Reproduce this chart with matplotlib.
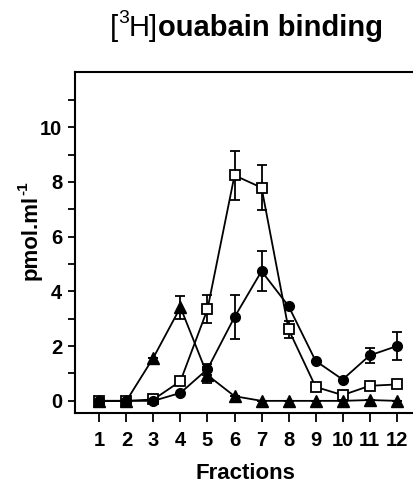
import numpy as np
import matplotlib.pyplot as plt

plt.rcParams['font.family'] = ['Liberation Sans', 'DejaVu Sans']

# fractions collected from the gradient
fractions = np.arange(1, 13)

# open squares
sq_vals = [0, 0, 0.05, 0.72, 3.35, 8.24, 7.79, 2.61, 0.51, 0.21, 0.55, 0.6]
sq_err = [0, 0, 0, 0, 0.52, 0.9, 0.82, 0.3, 0, 0, 0, 0]

# filled circles
ci_vals = [0, 0, 0, 0.29, 1.16, 3.06, 4.74, 3.46, 1.46, 0.78, 1.66, 2.0]
ci_err = [0, 0, 0, 0, 0.2, 0.8, 0.72, 0, 0, 0, 0.27, 0.5]

# filled triangles
tr_vals = [0, 0, 1.58, 3.42, 0.94, 0.17, 0, 0, 0, 0, 0.03, 0]
tr_err = [0, 0, 0, 0.42, 0.3, 0, 0, 0, 0, 0, 0, 0]

W, H = 413, 483
fig = plt.figure(figsize=(W / 100, H / 100), dpi=100)
ax = fig.add_axes([0.181, 0.144, 0.83, 0.706])

common = dict(color='black', lw=1.3, capsize=3.5, elinewidth=1.3, capthick=1.3)
ax.errorbar(fractions, sq_vals, yerr=sq_err, fmt='-s', ms=7, mfc='white',
            mec='black', mew=1.3, zorder=2, **common)
ax.errorbar(fractions, ci_vals, yerr=ci_err, fmt='-o', ms=7, mfc='black',
            zorder=3, **common)
ax.errorbar(fractions, tr_vals, yerr=tr_err, fmt='-^', ms=8, mfc='black',
            zorder=4, **common)

ax.set_xlim(0.09, 12.77)
ax.set_ylim(-0.46, 12)
ax.set_xticks(fractions)
ax.set_yticks([0, 2, 4, 6, 8, 10])
ax.set_yticks([1, 3, 5, 7, 9, 11], minor=True)

for s in ['left', 'bottom', 'top']:
    ax.spines[s].set_linewidth(1.5)
ax.spines['right'].set_visible(False)

ax.tick_params(axis='x', which='major', length=6.5, width=1.3, labelsize=14.5, pad=6)
ax.tick_params(axis='y', which='major', length=5, width=1.3, labelsize=14.5, pad=4)
ax.tick_params(axis='y', which='minor', length=5, width=1.3)
for lbl in ax.get_xticklabels() + ax.get_yticklabels():
    lbl.set_fontweight('bold')

fig.text(245.5 / W, 1 - 479 / H, 'Fractions', fontsize=16, fontweight='bold',
         ha='center', va='baseline')

# title: "[3H]" regular, "ouabain binding" bold
fig.canvas.draw()
r = fig.canvas.get_renderer()
base = 1 - 36 / H
x0 = 158 / W
fig.text(x0, base, 'ouabain binding', fontsize=21, fontweight='bold', ha='left', va='baseline')
t = fig.text(x0, base, 'H]', fontsize=21, ha='right', va='baseline')
left = t.get_window_extent(r).x0 / W
t = fig.text(left, base + 13 / H, '3', fontsize=14, ha='right', va='baseline')
left = t.get_window_extent(r).x0 / W
fig.text(left, base, '[', fontsize=21, ha='right', va='baseline')

# y label with a small "-1" superscript
t = fig.text(31 / W, 1 - 280 / H, 'pmol.ml', fontsize=16, fontweight='bold',
             rotation=90, ha='center', va='bottom')
bb = t.get_window_extent(r)
fig.text((bb.x0 - 4) / W, bb.y1 / H, '-1', fontsize=11, fontweight='bold',
         rotation=90, ha='left', va='bottom')

fig.savefig('out.png', dpi=100)
